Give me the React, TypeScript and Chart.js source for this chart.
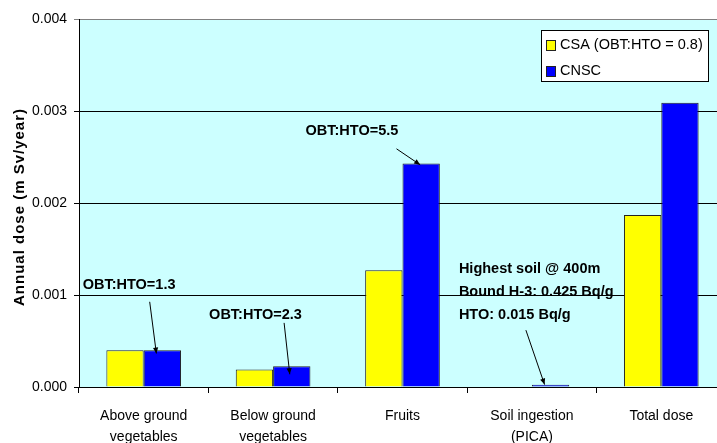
import React, { useEffect, useRef } from "react";
import { Chart, registerables } from "chart.js";

Chart.register(...registerables);

// Exposure pathways and the annual dose (mSv/year) estimated by each approach
const categories = [
  ["Above ground", "vegetables"],
  ["Below ground", "vegetables"],
  ["Fruits"],
  ["Soil ingestion", "(PICA)"],
  ["Total dose"],
];
const csaDose = [0.0004, 0.00019, 0.00127, 0, 0.00187];
const cnscDose = [0.0004, 0.000225, 0.00243, 0.000025, 0.00309];
const seriesLabels = ["CSA (OBT:HTO = 0.8)", "CNSC"];
const seriesColors = ["#FFFF00", "#0000FF"];
const yAxisTitle = "Annual dose (m Sv/year)";

// Call-outs: text block anchored to a category (px offset, dose value),
// arrow running from a tail point to the CNSC bar of that category.
const noteLines = [
  ["OBT:HTO=1.3"],
  ["OBT:HTO=2.3"],
  ["OBT:HTO=5.5"],
  ["Highest soil @ 400m", "Bound H-3: 0.425 Bq/g", "HTO: 0.015 Bq/g"],
];
const noteCategory = [0, 1, 2, 3];
const noteTextDx = [-61, -64, -97, -73];
const noteTextValue = [0.00111, 0.00078, 0.002785, 0.001279];
const noteTailDx = [6, 11, -6, -6];
const noteTailValue = [0.000926, 0.000697, 0.002589, 0.000618];
const noteTipDx = [-6, -2, -1, -6];
const noteTipValue = [0.000364, 0.000138, 0.002415, 0.000026];

const FONT = "'Liberation Sans', Arial, sans-serif";

const plotBackground = {
  id: "plotBackground",
  beforeDraw(chart: any) {
    const { ctx, chartArea } = chart;
    ctx.save();
    ctx.fillStyle = "#CCFFFF";
    ctx.fillRect(chartArea.left, chartArea.top, chartArea.right - chartArea.left, chartArea.bottom - chartArea.top);
    ctx.restore();
  },
};

const axisTitle = {
  id: "axisTitle",
  afterDraw(chart: any) {
    const { ctx, chartArea } = chart;
    ctx.save();
    ctx.translate(19.5, (chartArea.top + chartArea.bottom) / 2 + 4);
    ctx.rotate(-Math.PI / 2);
    ctx.font = `bold 15px ${FONT}`;
    (ctx as any).letterSpacing = "1px";
    ctx.fillStyle = "#000";
    ctx.textAlign = "center";
    ctx.textBaseline = "middle";
    ctx.fillText(yAxisTitle, 0, 0);
    ctx.restore();
  },
};

const callouts = {
  id: "callouts",
  afterDatasetsDraw(chart: any) {
    const { ctx } = chart;
    const xs = chart.scales.x;
    const ys = chart.scales.y;
    const bars = chart.getDatasetMeta(1).data;
    ctx.save();
    ctx.font = `bold 14.5px ${FONT}`;
    ctx.fillStyle = "#000";
    ctx.strokeStyle = "#000";
    ctx.textAlign = "left";
    ctx.textBaseline = "middle";
    noteLines.forEach((lines, i) => {
      const cx = xs.getPixelForValue(noteCategory[i]);
      const ty = ys.getPixelForValue(noteTextValue[i]);
      lines.forEach((line, k) => {
        ctx.fillText(line, cx + noteTextDx[i], ty + k * 22.8);
      });
      const x0 = cx + noteTailDx[i];
      const y0 = ys.getPixelForValue(noteTailValue[i]);
      const x1 = bars[noteCategory[i]].x + noteTipDx[i];
      const y1 = ys.getPixelForValue(noteTipValue[i]);
      ctx.lineWidth = 1;
      ctx.beginPath();
      ctx.moveTo(x0, y0);
      ctx.lineTo(x1, y1);
      ctx.stroke();
      const a = Math.atan2(y1 - y0, x1 - x0);
      const len = 6;
      const half = 2.6;
      ctx.beginPath();
      ctx.moveTo(x1, y1);
      ctx.lineTo(x1 - len * Math.cos(a) + half * Math.sin(a), y1 - len * Math.sin(a) - half * Math.cos(a));
      ctx.lineTo(x1 - len * Math.cos(a) - half * Math.sin(a), y1 - len * Math.sin(a) + half * Math.cos(a));
      ctx.closePath();
      ctx.fill();
    });
    ctx.restore();
  },
};

const boxedLegend = {
  id: "boxedLegend",
  afterDraw(chart: any) {
    const { ctx, chartArea } = chart;
    ctx.save();
    ctx.font = `14.5px ${FONT}`;
    const labels = chart.data.datasets.map((d: any) => d.label);
    const textW = Math.max(...labels.map((l: string) => ctx.measureText(l).width));
    const w = Math.round(19 + textW + 5);
    const h = 51;
    const right = chartArea.right - 18;
    const left = Math.round(right - w) + 0.5;
    const top = Math.round(chartArea.top + 11) + 0.5;
    ctx.fillStyle = "#FFFFFF";
    ctx.fillRect(left, top, w, h);
    ctx.strokeStyle = "#000";
    ctx.lineWidth = 1;
    ctx.strokeRect(left, top, w, h);
    ctx.textAlign = "left";
    ctx.textBaseline = "middle";
    chart.data.datasets.forEach((d: any, i: number) => {
      const cy = top + 14 + i * 26;
      ctx.fillStyle = d.backgroundColor;
      ctx.fillRect(left + 5, Math.round(cy - 5) + 0.5, 9, 10);
      ctx.strokeStyle = "#222";
      ctx.strokeRect(left + 5, Math.round(cy - 5) + 0.5, 9, 10);
      ctx.fillStyle = "#000";
      ctx.fillText(d.label, left + 18.5, cy);
    });
    ctx.restore();
  },
};

function DoseChart() {
  const canvasRef = useRef<HTMLCanvasElement | null>(null);

  useEffect(() => {
    const canvas = canvasRef.current;
    if (!canvas) return;
    const chart = new Chart(canvas, {
      type: "bar",
      data: {
        labels: categories,
        datasets: [
          {
            label: seriesLabels[0],
            data: csaDose,
            backgroundColor: seriesColors[0],
            borderColor: "#222",
            borderWidth: 1,
          },
          {
            label: seriesLabels[1],
            data: cnscDose,
            backgroundColor: seriesColors[1],
            borderColor: "#222",
            borderWidth: 1,
          },
        ],
      },
      options: {
        responsive: false,
        animation: false,
        devicePixelRatio: 1,
        layout: { padding: { top: 19, right: 14, bottom: 0, left: 0 } },
        datasets: { bar: { categoryPercentage: 0.577, barPercentage: 1 } },
        plugins: {
          legend: { display: false },
          tooltip: { enabled: false },
          title: { display: false },
        },
        scales: {
          x: {
            grid: {
              drawOnChartArea: false,
              drawTicks: true,
              tickLength: 6,
              color: "#000",
            },
            border: { display: true, color: "#000" },
            ticks: {
              color: "#000",
              font: { family: FONT, size: 14, lineHeight: 1.5 },
              padding: 13,
              maxRotation: 0,
              autoSkip: false,
            },
            afterFit(scale: any) {
              scale.height = 56;
            },
          },
          y: {
            min: 0,
            max: 0.004,
            grid: {
              color: (c: any) => (c.tick && c.tick.value === 0.004 ? "#808080" : "#000"),
              tickLength: 5,
              drawTicks: true,
            },
            border: { display: true, color: "#000" },
            ticks: {
              stepSize: 0.001,
              color: "#000",
              font: { family: FONT, size: 14 },
              padding: 7,
              callback: (v: any) => Number(v).toFixed(3),
            },
            afterFit(scale: any) {
              scale.width = 79;
            },
          },
        },
      },
      plugins: [plotBackground, callouts, boxedLegend, axisTitle],
    });
    return () => chart.destroy();
  }, []);

  return (
    <div
      style={{
        position: "fixed",
        left: 0,
        top: 0,
        width: 717,
        height: 443,
        overflow: "hidden",
        background: "#fff",
      }}
    >
      <canvas ref={canvasRef} width={740} height={443} style={{ display: "block", width: 740, height: 443 }} />
    </div>
  );
}

export default function App() {
  return <DoseChart />;
}
